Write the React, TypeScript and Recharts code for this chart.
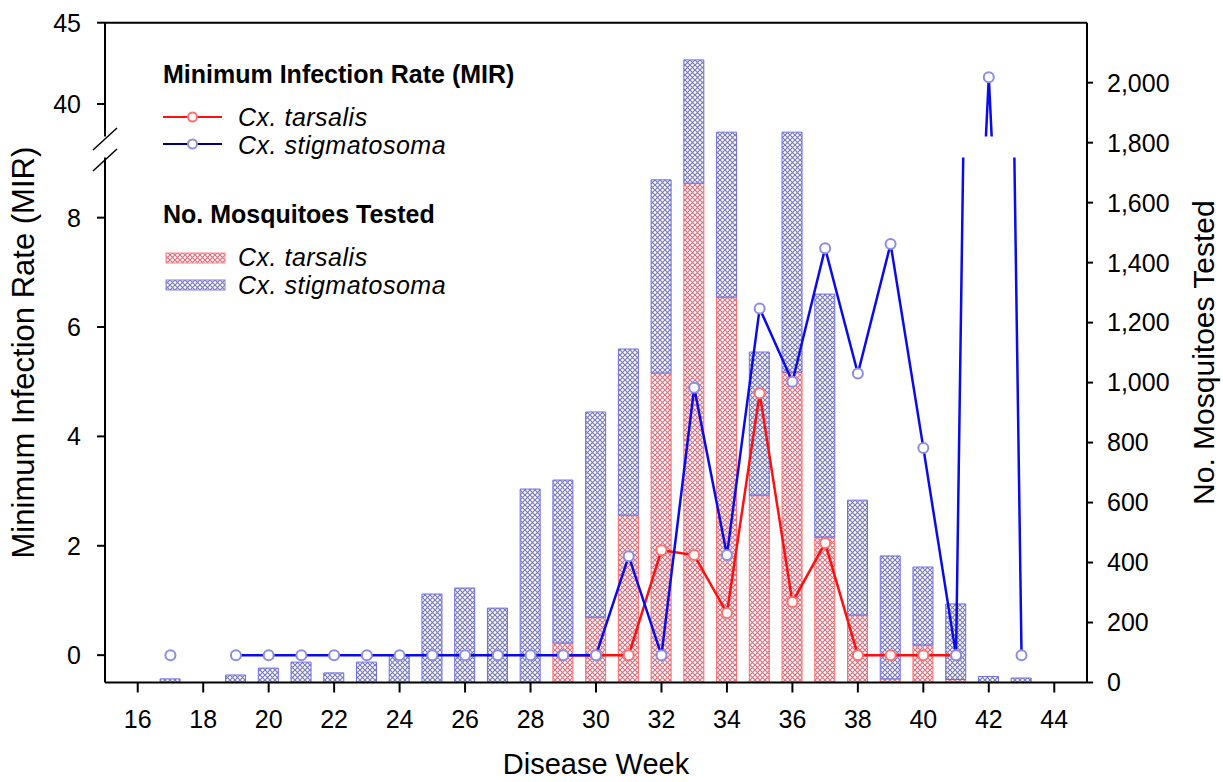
import React from 'react';
import { ComposedChart, LineChart, Bar, Line, XAxis, YAxis, ReferenceLine } from 'recharts';

// Weekly WNV surveillance: MIR (lines, broken left axis) and mosquitoes tested (stacked bars, right axis)

const weeks = [17, 18, 19, 20, 21, 22, 23, 24, 25, 26, 27, 28, 29, 30, 31, 32, 33, 34, 35, 36, 37, 38, 39, 40, 41, 42, 43];

const tarsalisTested = [0, 0, 0, 0, 0, 0, 0, 0, 0, 0, 0, 0, 132, 218, 558, 1032, 1665, 1285, 625, 1035, 485, 225, 12, 125, 10, 0, 0];
const stigmatosomaTested = [12, 0, 25, 48, 68, 32, 68, 92, 295, 315, 248, 645, 543, 684, 554, 644, 411, 550, 477, 800, 810, 383, 410, 260, 252, 20, 15];

const tarsalisMIR = [null, null, null, null, null, null, null, null, null, null, null, null, 0, 0, 0, 1.92, 1.83, 0.77, 4.79, 0.97, 2.05, 0, 0, 0, 0, null, null];
const stigmatosomaMIR = [0, null, 0, 0, 0, 0, 0, 0, 0, 0, 0, 0, 0, 0, 1.81, 0, 4.89, 1.83, 6.34, 5.0, 7.44, 5.15, 7.52, 3.79, 0, 41.65, 0];

const xTicks = [16, 18, 20, 22, 24, 26, 28, 30, 32, 34, 36, 38, 40, 42, 44];
const lowerTicks = [0, 2, 4, 6, 8];
const upperTicks = [40, 45];
const rightTicks = [0, 200, 400, 600, 800, 1000, 1200, 1400, 1600, 1800, 2000];

const data = weeks.map((week, i) => ({
  week,
  tarsalis: tarsalisTested[i],
  stigmatosoma: stigmatosomaTested[i],
  tarsalisMir: tarsalisMIR[i],
  stigmatosomaMir: stigmatosomaMIR[i],
}));

const W = 1223;
const H = 782;
const PLOT_LEFT = 105;
const PLOT_RIGHT = 1087;
const PLOT_TOP = 22.7;
const PLOT_BOTTOM = 682.5;
const UPPER_BOTTOM = 136.5; // bottom of the 38-45 segment
const LOWER_TOP = 157.5; // top of the -0.5..9.1 segment

const FONT = "'Liberation Sans', Arial, Helvetica, sans-serif";
const AXIS = { stroke: '#000', strokeWidth: 2 };
const TICK = { fill: '#000', fontSize: 25, fontFamily: FONT };

const RED = '#ff1010';
const BLUE = '#0a0aee';

const redDot = { r: 5, fill: '#fff', stroke: '#ff7070', strokeWidth: 2 };
const blueDot = { r: 5, fill: '#fff', stroke: '#8c8ce0', strokeWidth: 2 };

function Patterns() {
  return (
    <defs>
      <pattern id="hatchRed" width="5" height="5" patternUnits="userSpaceOnUse">
        <rect width="5" height="5" fill="#fff" />
        <path d="M0,0 L5,5 M5,0 L0,5" stroke="#d8707e" strokeWidth="1.2" />
      </pattern>
      <pattern id="hatchBlue" width="5" height="5" patternUnits="userSpaceOnUse">
        <rect width="5" height="5" fill="#fff" />
        <path d="M0,0 L5,5 M5,0 L0,5" stroke="#7a7ab8" strokeWidth="1.2" />
      </pattern>
    </defs>
  );
}

function MirLines({ domain, ticks, top, bottom }: { domain: number[]; ticks: number[]; top: number; bottom: number }) {
  return (
    <LineChart
      width={W}
      height={H}
      data={data}
      margin={{ top, right: W - PLOT_RIGHT, bottom: H - bottom, left: 0 }}
    >
      <XAxis type="number" dataKey="week" domain={[15, 45]} hide />
      <YAxis
        domain={domain}
        ticks={ticks}
        allowDataOverflow
        width={PLOT_LEFT}
        tickSize={8}
        tickMargin={16}
        axisLine={AXIS}
        tickLine={AXIS}
        tick={TICK}
        interval={0}
      />
      <Line dataKey="tarsalisMir" stroke={RED} strokeWidth={2.5} dot={redDot} activeDot={false} isAnimationActive={false} />
      <Line dataKey="stigmatosomaMir" stroke={BLUE} strokeWidth={2.5} dot={blueDot} activeDot={false} isAnimationActive={false} />
    </LineChart>
  );
}

function Legend() {
  const item = { fontSize: 25, fontStyle: 'italic', fontFamily: FONT, letterSpacing: 0.5 };
  const head = { fontSize: 25, fontWeight: 'bold', fontFamily: FONT };
  return (
    <svg width={W} height={H} style={{ position: 'absolute', left: 0, top: 0, pointerEvents: 'none' }}>
      <Patterns />
      {/* axis break marks */}
      <line x1={93} y1={150} x2={117} y2={128} stroke="#000" strokeWidth={1.5} />
      <line x1={93} y1={171} x2={117} y2={149} stroke="#000" strokeWidth={1.5} />

      <text x={163} y={83} style={head}>Minimum Infection Rate (MIR)</text>
      <line x1={163} y1={117} x2={222} y2={117} stroke={RED} strokeWidth={2} />
      <circle cx={192.5} cy={117} r={4.5} fill="#fff" stroke="#ff7070" strokeWidth={2} />
      <text x={238} y={125.5} style={item}>Cx. tarsalis</text>
      <line x1={163} y1={144} x2={222} y2={144} stroke="#00007a" strokeWidth={2} />
      <circle cx={192.5} cy={144} r={4.5} fill="#fff" stroke="#9090d0" strokeWidth={2} />
      <text x={238} y={154} style={item}>Cx. stigmatosoma</text>

      <text x={163} y={223} style={head}>No. Mosquitoes Tested</text>
      <rect x={166} y={253} width={59} height={10} fill="url(#hatchRed)" stroke="#ff8080" strokeWidth={1} />
      <text x={238} y={265.5} style={item}>Cx. tarsalis</text>
      <rect x={166} y={280} width={59} height={10} fill="url(#hatchBlue)" stroke="#8080e0" strokeWidth={1} />
      <text x={238} y={294} style={item}>Cx. stigmatosoma</text>
    </svg>
  );
}

export default function App() {
  return (
    <div style={{ position: 'absolute', left: 0, top: 0, width: W, height: H, background: '#fff', fontFamily: FONT }}>
      <div style={{ position: 'absolute', left: 0, top: 0 }}>
        <ComposedChart width={W} height={H} data={data} margin={{ top: PLOT_TOP, right: 0, bottom: 0, left: 0 }}>
          <Patterns />
          <XAxis
            type="number"
            dataKey="week"
            domain={[15, 45]}
            ticks={xTicks}
            interval={0}
            height={H - PLOT_BOTTOM}
            tickSize={10}
            tickMargin={18}
            axisLine={AXIS}
            tickLine={AXIS}
            tick={TICK}
            label={{ value: 'Disease Week', position: 'insideBottom', offset: 8, fill: '#000', fontSize: 29, fontFamily: FONT }}
          />
          <YAxis
            yAxisId="title"
            width={PLOT_LEFT}
            axisLine={false}
            tickLine={false}
            tick={false}
            label={{
              value: 'Minimum Infection Rate (MIR)',
              angle: -90,
              position: 'insideLeft',
              offset: 23,
              fill: '#000',
              fontSize: 31,
              fontFamily: FONT,
              style: { textAnchor: 'middle' },
            }}
          />
          <YAxis
            yAxisId="right"
            orientation="right"
            domain={[0, 2200]}
            ticks={rightTicks}
            interval={0}
            width={W - PLOT_RIGHT}
            tickSize={6}
            tickMargin={14}
            axisLine={AXIS}
            tickLine={AXIS}
            tick={TICK}
            tickFormatter={(v: number) => v.toLocaleString('en-US')}
            label={{
              value: 'No. Mosquitoes Tested',
              angle: -90,
              position: 'insideRight',
              offset: 20,
              fill: '#000',
              fontSize: 30,
              fontFamily: FONT,
              style: { textAnchor: 'middle' },
            }}
          />
          <ReferenceLine yAxisId="right" y={2200} stroke="#000" strokeWidth={2} />
          <Bar
            yAxisId="right"
            dataKey="tarsalis"
            stackId="tested"
            barSize={20}
            fill="url(#hatchRed)"
            stroke="#ff6a6a"
            strokeWidth={1}
            isAnimationActive={false}
          />
          <Bar
            yAxisId="right"
            dataKey="stigmatosoma"
            stackId="tested"
            barSize={20}
            fill="url(#hatchBlue)"
            stroke="#6c6ce6"
            strokeWidth={1}
            isAnimationActive={false}
          />
        </ComposedChart>
      </div>
      <div style={{ position: 'absolute', left: 0, top: 0 }}>
        <MirLines domain={[-0.5, 9.1]} ticks={lowerTicks} top={LOWER_TOP} bottom={PLOT_BOTTOM} />
      </div>
      <div style={{ position: 'absolute', left: 0, top: 0 }}>
        <MirLines domain={[38, 45]} ticks={upperTicks} top={PLOT_TOP} bottom={UPPER_BOTTOM} />
      </div>
      <Legend />
    </div>
  );
}
